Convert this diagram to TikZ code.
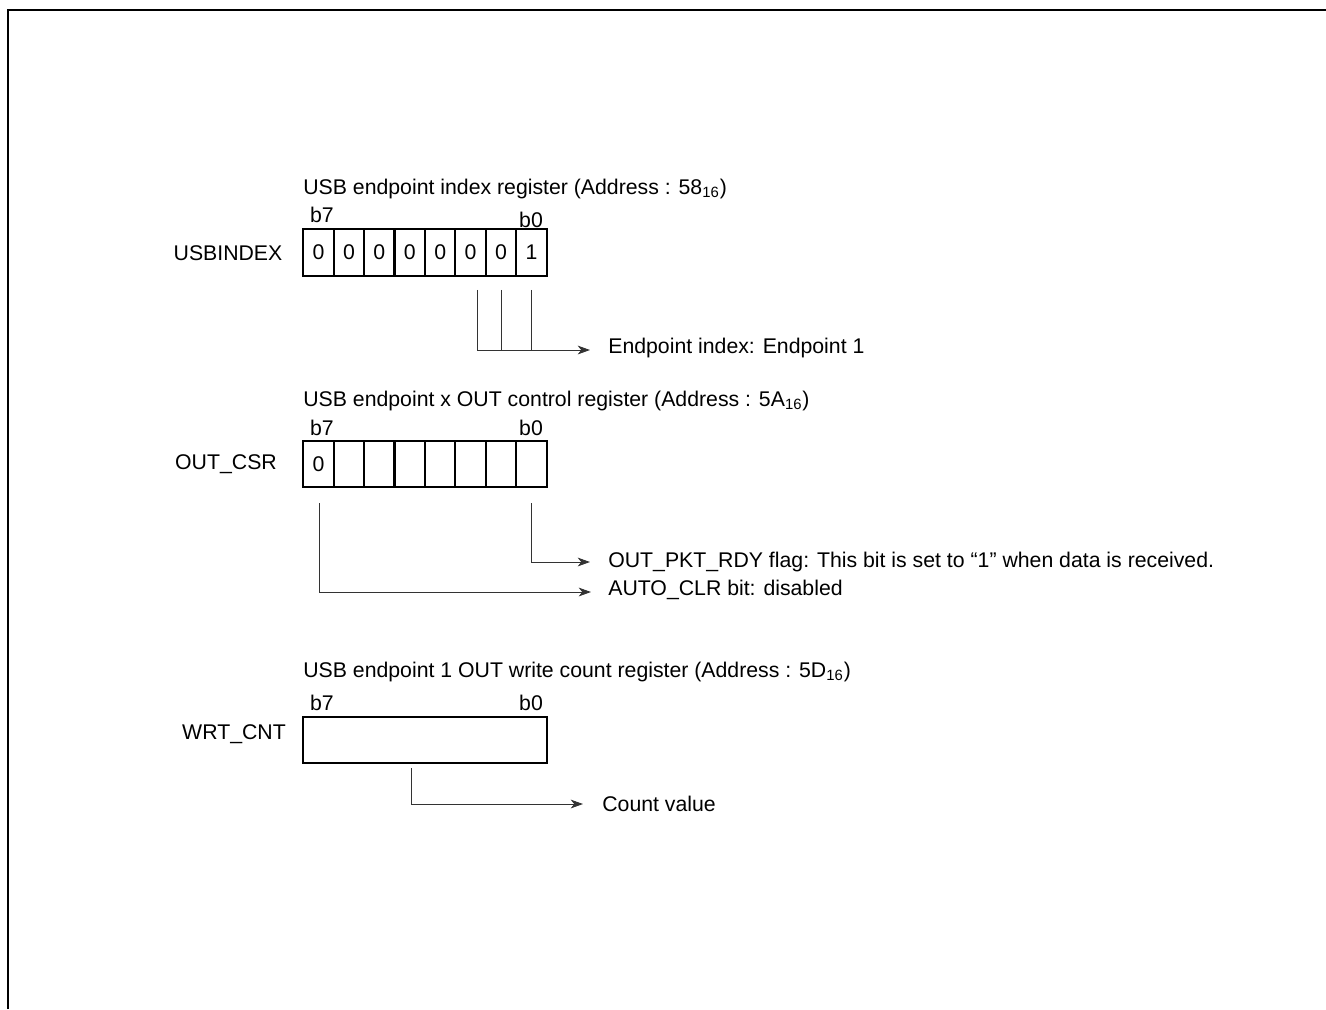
\documentclass[tikz,border=0pt]{standalone}
\usepackage{fontspec}
\setmainfont{Liberation Sans}
\usetikzlibrary{arrows.meta}
\tikzset{
  bitcell/.style={draw,line width=1.2pt,minimum width=0.608cm,minimum height=0.93cm,inner sep=0pt},
  conn/.style={draw=black!80,line width=0.55pt},
  arr/.style={-{Stealth[length=7pt,width=5pt,inset=2pt]}},
  txt/.style={inner sep=0pt,anchor=west},
}

\begin{document}
\begin{tikzpicture}[x=0.02cm,y=-0.02cm,font=\fontsize{12.1}{14}\selectfont]
  \useasboundingbox (0,0) rectangle (1326,1009);
  % page frame, cut at right and bottom
  \draw[line width=1.5pt] (8,1009) -- (8,10) -- (1326,10);

  % USB endpoint index register
  \node[txt] (idxttl) at (303,189) {USB endpoint index register (Address : 58\textsubscript{16})};
  \node (idxname) at (228,253) {USBINDEX};
  \foreach \b [count=\i from 0, evaluate=\i as \n using int(7-\i)] in {0,0,0,0,0,0,0,1}
    \node[bitcell] (ui\n) at ({303.3+30.42*(\i+0.5)},252.5) {\b};
  \node (idxb7) at (322,215) {b7};
  \node (idxb0) at (531,220) {b0};
  \node[txt] (idxlbl) at (608,348) {Endpoint index: Endpoint 1};
  \coordinate (idxend) at (590,350);
  \draw[conn,arr] ([shift={(7,13)}]ui2.south) |- (idxend);
  \draw[conn] ([shift={(0,13)}]ui1.south) -- (ui1 |- idxend);
  \draw[conn] ([shift={(0,13)}]ui0.south) -- (ui0 |- idxend);

  % USB endpoint x OUT control register
  \node[txt] (csrttl) at (303,401) {USB endpoint x OUT control register (Address : 5A\textsubscript{16})};
  \node (csrname) at (226,464) {OUT\_CSR};
  \foreach \b [count=\i from 0, evaluate=\i as \n using int(7-\i)] in {0,{},{},{},{},{},{},{}}
    \node[bitcell] (oc\n) at ({303.3+30.42*(\i+0.5)},464) {\b};
  \node (csrb7) at (322,428) {b7};
  \node (csrb0) at (531,428) {b0};
  \node[txt] (rdylbl) at (608,562) {OUT\_PKT\_RDY flag: This bit is set to “1” when data is received.};
  \node[txt] (clrlbl) at (608,590) {AUTO\_CLR bit: disabled};
  \coordinate (rdyend) at (590,562);
  \coordinate (clrend) at (591,592);
  \draw[conn,arr] ([shift={(0,15)}]oc0.south) |- (rdyend);
  \draw[conn,arr] ([shift={(1,15)}]oc7.south) |- (clrend);

  % USB endpoint 1 OUT write count register
  \node[txt] (cntttl) at (303,672) {USB endpoint 1 OUT write count register (Address : 5D\textsubscript{16})};
  \node (cntname) at (234,734) {WRT\_CNT};
  \node[draw,line width=1.2pt,minimum width=4.87cm,minimum height=0.93cm,inner sep=0pt] (wrt) at (425,740) {};
  \node (cntb7) at (322,703) {b7};
  \node (cntb0) at (531,703) {b0};
  \node[txt] (cntlbl) at (602,804) {Count value};
  \coordinate (cntend) at (583,804);
  \draw[conn,arr] ([shift={(-14,4)}]wrt.south) |- (cntend);
\end{tikzpicture}
\end{document}
